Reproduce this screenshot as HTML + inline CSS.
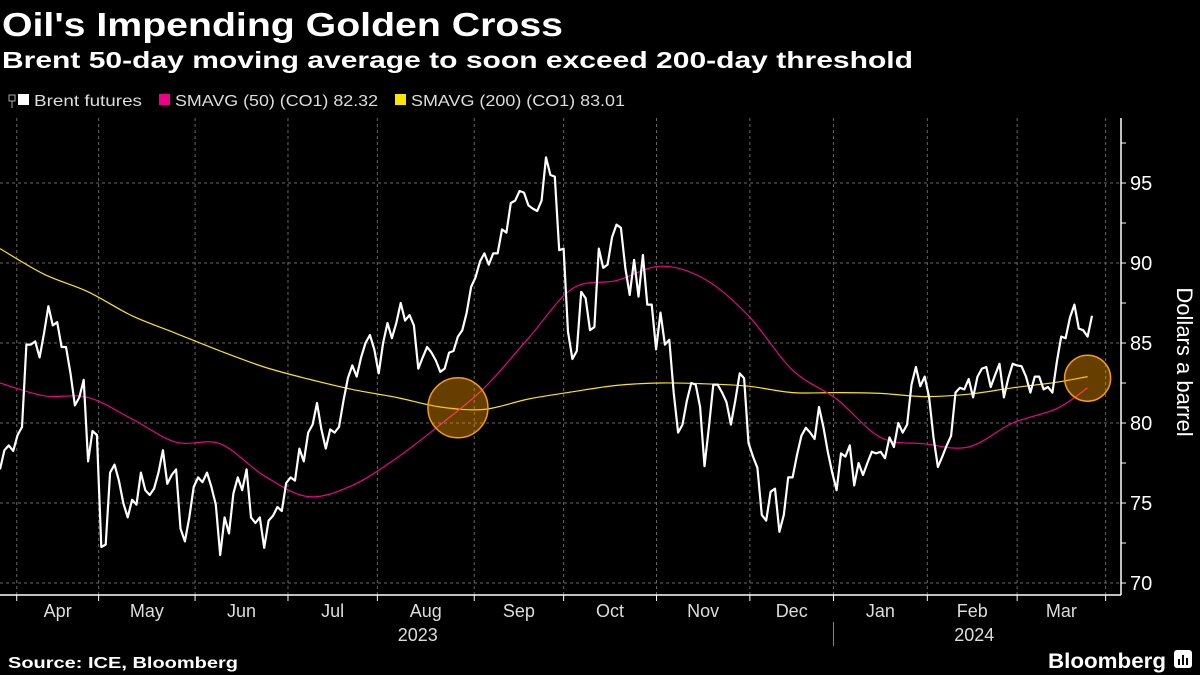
<!DOCTYPE html>
<html><head><meta charset="utf-8"><style>
html,body{margin:0;padding:0;background:#000;}
svg{display:block;}
text{font-family:"Liberation Sans",sans-serif;}
</style></head><body>
<svg id="chart" width="1200" height="675" viewBox="0 0 1200 675" xmlns="http://www.w3.org/2000/svg">
<rect x="0" y="0" width="1200" height="675" fill="#000"/>
<text x="2" y="36" fill="#fff" font-size="33" font-weight="bold" textLength="561" lengthAdjust="spacingAndGlyphs">Oil's Impending Golden Cross</text>
<text x="2" y="68" fill="#fff" font-size="23" font-weight="bold" textLength="911" lengthAdjust="spacingAndGlyphs">Brent 50-day moving average to soon exceed 200-day threshold</text>
<g>
 <g><rect x="9" y="95" width="6" height="6" fill="none" stroke="#aaa" stroke-width="1"/><line x1="12" y1="101" x2="12" y2="108" stroke="#aaa"/></g>
 <g><rect x="18" y="94" width="11" height="11" fill="#fff"/><text x="34" y="106" fill="#ddd" font-size="16" textLength="108" lengthAdjust="spacingAndGlyphs">Brent futures</text></g>
 <g><rect x="159" y="94" width="11" height="11" fill="#ec008c"/><text x="175" y="106" fill="#ddd" font-size="16" textLength="203" lengthAdjust="spacingAndGlyphs">SMAVG (50) (CO1) 82.32</text></g>
 <g><rect x="395" y="94" width="11" height="11" fill="#ffe600"/><text x="411" y="106" fill="#ddd" font-size="16" textLength="214" lengthAdjust="spacingAndGlyphs">SMAVG (200) (CO1) 83.01</text></g>
</g>
<g id="grid"></g>
<g id="marks"></g>
<g id="axes"></g>
<text transform="translate(1177,362) rotate(90)" text-anchor="middle" fill="#fff" font-size="22">Dollars a barrel</text>
<text x="8" y="668" fill="#fff" font-size="16" font-weight="bold" textLength="230" lengthAdjust="spacingAndGlyphs">Source: ICE, Bloomberg</text>
<g>
 <text x="1048" y="668" fill="#fff" font-size="21" font-weight="bold" textLength="118" lengthAdjust="spacingAndGlyphs">Bloomberg</text>
 <rect x="1174" y="650" width="18" height="18" rx="3" fill="#fff"/>
 <rect x="1178" y="659" width="2" height="6" fill="#000"/><rect x="1182" y="655" width="2" height="10" fill="#000"/><rect x="1186" y="658" width="2" height="7" fill="#000"/>
</g>
</svg>
<script>
// ---- data ----
const yTicks = [70, 75, 80, 85, 90, 95];
const monthLabels = ["Apr","May","Jun","Jul","Aug","Sep","Oct","Nov","Dec","Jan","Feb","Mar"];
const yearLabels = ["2023","2024"];
// trading-day index of each month boundary (Apr 1 2023 ... Apr 1 2024)
const monthBoundaryDays = [3.8, 22.4, 44.3, 65.4, 85.7, 107.7, 128, 149.1, 170.3, 189.3, 210.6, 231, 251.1];
// Brent futures daily closes (trading days)
const brent = [77.1,78.3,78.6,78.25,79.25,79.75,84.9,84.9,85.1,84.1,85.6,87.3,86.1,86.3,84.75,84.75,83.1,81.1,81.6,82.7,77.6,79.5,79.25,72.25,72.4,76.9,77.4,76.4,75,74.1,75.2,74.9,76.9,75.8,75.5,75.9,76.9,78.3,76.2,76.75,77.1,73.4,72.6,74.1,76,76.6,76.3,76.9,76,74.9,71.75,74.1,73.1,75.6,76.6,75.8,77.1,74.1,73.75,74.1,72.2,73.9,74.2,74.75,74.5,
76.25,76.6,76.4,78.4,77.6,79.4,79.9,81.25,79.6,78.4,79.6,79.4,79.75,81.4,82.8,83.6,82.9,84.1,85,85.5,84.6,83.1,85,86.25,85.3,86.25,87.5,86.4,86.75,86.1,83.4,84.1,84.75,84.4,83.9,83.2,83.4,84.4,84.5,85.4,85.8,86.9,88.5,89.1,90.1,90.6,89.9,90.6,90.6,92.1,91.9,93.75,93.9,94.5,94.4,93.6,93.4,93.25,93.9,96.6,95.5,95.4,90.8,90.9,85.7,84,84.5,88.2,87.8,85.8,
86,90.9,89.7,89.9,91.6,92.4,92.2,89.7,88,90.2,87.9,90.5,87.4,87.4,84.6,86.9,84.9,85.2,81.9,79.4,79.9,81.4,82.5,82.4,81,77.3,79.75,82.4,82.4,81.9,81.3,79.9,81.4,83.1,82.8,78.75,77.9,77.2,74.25,73.9,75.7,75.9,73.2,74.25,76.6,76.6,78,79.2,79.7,79.4,79,81,79.75,78.2,76.9,75.8,78.1,77.9,78.6,76.1,77.5,76.75,77.5,78.2,78.1,
78.2,77.8,79.1,78.5,80,79.4,79.9,82.4,83.5,82.3,82.9,81.6,79.1,77.25,77.9,78.6,79.2,81.9,82.2,82.1,82.75,81.6,82.9,83.4,83.5,82.25,83,83.7,81.6,82.8,83.7,83.6,83.55,82.9,81.9,82.9,82.9,82.1,82.25,81.9,83.8,85.4,85.3,86.6,87.4,85.9,85.8,85.4,86.7];
// moving averages sampled every 10 trading days (last point = final day)
const maDays = [0,10,20,30,40,50,60,70,80,90,100,110,120,130,140,150,160,170,180,190,200,210,220,230,240,247];
const sma50 = [82.5,81.7,81.6,80.25,78.8,78.7,76.7,75.4,76.1,77.8,79.9,82.2,85.3,88.4,88.9,89.8,89.0,86.7,83.3,81.5,79.1,78.7,78.5,80.0,80.9,82.2];
const sma200 = [90.9,89.3,88.2,86.7,85.6,84.5,83.5,82.75,82.1,81.6,81.0,80.85,81.5,81.95,82.35,82.5,82.45,82.3,81.9,81.9,81.85,81.65,81.8,82.2,82.55,82.9];
// highlighted crossover points: [trading day, value]
const crossDays = [104, 247];
const crossVals = [80.95, 82.8];
const crossRadius = [30, 23];

// ---- scales ----
const NS="http://www.w3.org/2000/svg";
const X0=0, X1=1092, Y95=183, PX_PER=16;
const lastDay = brent.length-1;
function xS(d){ return X0 + d*(X1-X0)/lastDay; }
function yS(v){ return Y95 + (95-v)*PX_PER; }
function mk(tag, attrs, parent){ const e=document.createElementNS(NS,tag); for(const k in attrs) e.setAttribute(k,attrs[k]); parent.appendChild(e); return e; }
const grid=document.getElementById('grid'), marks=document.getElementById('marks'), axes=document.getElementById('axes');
const AXX=1121, TOP=118, BOT=595;

// grid
yTicks.forEach(v=>{
  const l=mk('line',{x1:0,x2:AXX,y1:yS(v),y2:yS(v),stroke:'#666','stroke-width':1,'stroke-dasharray':'3,3'},grid);
  
  
});
monthBoundaryDays.forEach((d,i)=>{
  const x=xS(d);
  const l=mk('line',{x1:x,x2:x,y1:TOP,y2:BOT,stroke:'#666','stroke-width':1,'stroke-dasharray':'3,3'},grid);
  
  
  const t=mk('line',{x1:x,x2:x,y1:BOT,y2:BOT+6,stroke:'#fff','stroke-width':1},axes);
  
  
});

// series
function poly(days, vals, color, w, name){
  const pts=vals.map((v,i)=>xS(days?days[i]:i).toFixed(1)+','+yS(v).toFixed(1)).join(' ');
  const p=mk('polyline',{points:pts,fill:'none',stroke:color,'stroke-width':w,'stroke-linejoin':'round'},marks);
  
  
}
function smooth(days, vals, color, w, name){
  const P=vals.map((v,i)=>[xS(days[i]),yS(v)]);
  let d='M'+P[0][0].toFixed(1)+','+P[0][1].toFixed(1);
  for(let i=0;i<P.length-1;i++){
    const p0=P[Math.max(0,i-1)],p1=P[i],p2=P[i+1],p3=P[Math.min(P.length-1,i+2)];
    const c1=[p1[0]+(p2[0]-p0[0])/6,p1[1]+(p2[1]-p0[1])/6];
    const c2=[p2[0]-(p3[0]-p1[0])/6,p2[1]-(p3[1]-p1[1])/6];
    d+=' C'+c1[0].toFixed(1)+','+c1[1].toFixed(1)+' '+c2[0].toFixed(1)+','+c2[1].toFixed(1)+' '+p2[0].toFixed(1)+','+p2[1].toFixed(1);
  }
  const p=mk('path',{d:d,fill:'none',stroke:color,'stroke-width':w},marks);
  
  
}
smooth(maDays, sma200, '#ffe600', 1.2, 'sma200-line');
smooth(maDays, sma50, '#ec008c', 1.2, 'sma50-line');
poly(null, brent, '#ffffff', 2.2, 'brent-line');
crossDays.forEach((d,i)=>{
  const c=mk('circle',{cx:xS(d),cy:yS(crossVals[i]),r:crossRadius[i],fill:'rgba(255,155,0,0.4)',stroke:'#f39c12','stroke-width':1.5},marks);
  
  
});

// axes
const ax=mk('line',{x1:AXX,x2:AXX,y1:TOP,y2:BOT,stroke:'#fff','stroke-width':1.5},axes);


const bx=mk('line',{x1:0,x2:AXX,y1:BOT,y2:BOT,stroke:'#fff','stroke-width':1.5},axes);


for(let v=70; v<=97.5; v+=2.5){
  const y=yS(v);
  const t=mk('line',{x1:AXX,x2:AXX+5,y1:y,y2:y,stroke:'#fff','stroke-width':1},axes);
  
  
}
yTicks.forEach(v=>{
  const t=mk('text',{x:AXX+9,y:yS(v)+7,fill:'#fff','font-size':20},axes);
  t.textContent=String(v);
  
  
});
const monthCenters = monthLabels.map((m,i)=>(xS(monthBoundaryDays[i])+xS(monthBoundaryDays[i+1]))/2);
monthLabels.forEach((m,i)=>{
  const t=mk('text',{x:monthCenters[i],y:617,fill:'#ddd','font-size':18,'text-anchor':'middle'},axes);
  t.textContent=m;
  
  
});
[[4,yearLabels[0],-8],[10,yearLabels[1],2]].forEach(([mi,yl,off])=>{
  const t=mk('text',{x:monthCenters[mi]+off,y:641,fill:'#ddd','font-size':18,'text-anchor':'middle'},axes);
  t.textContent=yl;
  
  
});
const sep=mk('line',{x1:xS(monthBoundaryDays[9]),x2:xS(monthBoundaryDays[9]),y1:622,y2:646,stroke:'#888','stroke-width':1},axes);


</script>
</body></html>
